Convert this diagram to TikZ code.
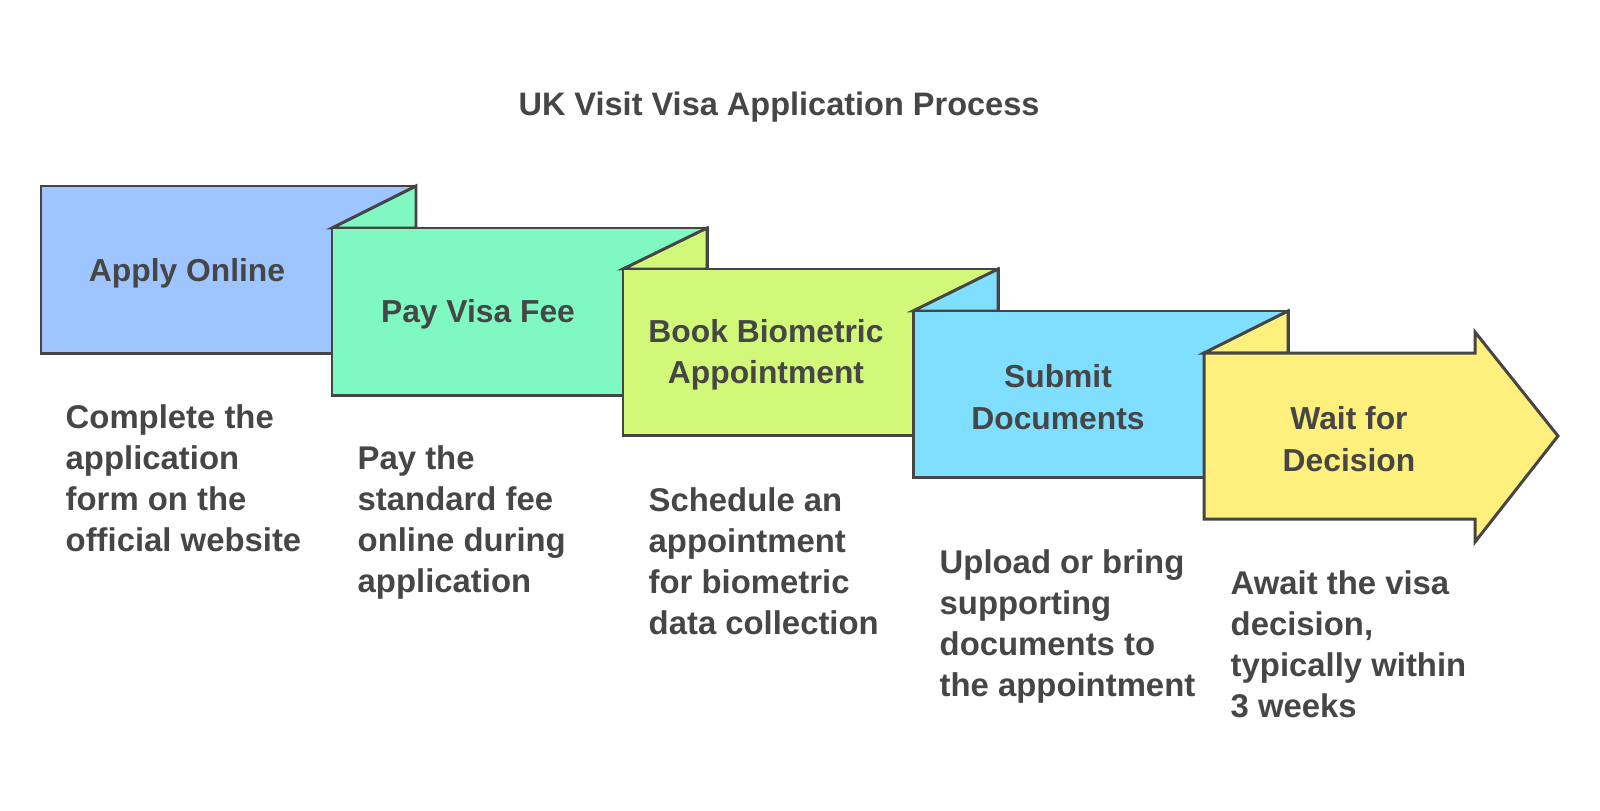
\documentclass[tikz,border=0pt]{standalone}
\usepackage{fontspec}
\setmainfont{Liberation Sans}
\definecolor{azul}{HTML}{9EC5FF}
\definecolor{menta}{HTML}{80F8C2}
\definecolor{lima}{HTML}{D2F87A}
\definecolor{celeste}{HTML}{80DEFF}
\definecolor{amarillo}{HTML}{FFF07E}
\definecolor{borde}{HTML}{454545}
\definecolor{texto}{HTML}{464646}
\tikzset{
  caja/.style={draw=borde, line width=0.85pt},
  etiqueta/.style={font=\bfseries\fontsize{9.05}{11.8}\selectfont, text=texto, align=center, inner sep=0pt},
  desc/.style={font=\bfseries\fontsize{9.35}{11.7}\selectfont, text=texto, align=left, anchor=north west, inner sep=0pt},
}
\begin{document}
\begin{tikzpicture}[x=0.1mm, y=-0.1mm]
  \useasboundingbox (0, 0) rectangle (1600, 810);
  \node[font=\bfseries\fontsize{9.25}{11}\selectfont, text=texto] (titulo) at (779, 107) {UK Visit Visa Application Process};

  % Primer paso
  \draw[caja, fill=azul] (41, 186) rectangle (416, 353);
  \node[etiqueta] (paso1) at (187, 273) {Apply Online};
  \node[desc] (desc1) at (65, 404) {Complete the\\application\\form on the\\official website};

  % Segundo paso
  \draw[caja, fill=menta] (332, 228) -- (416, 186) -- (416, 228) -- cycle;
  \draw[caja, fill=menta] (332, 228) rectangle (707, 395);
  \node[etiqueta] (paso2) at (478, 314) {Pay Visa Fee};
  \node[desc] (desc2) at (357, 445) {Pay the\\standard fee\\online during\\application};

  % Tercer paso
  \draw[caja, fill=lima] (623, 269) -- (707, 228) -- (707, 269) -- cycle;
  \draw[caja, fill=lima] (623, 269) rectangle (998, 435);
  \node[etiqueta] (paso3) at (766, 355) {Book Biometric\\Appointment};
  \node[desc] (desc3) at (648, 487) {Schedule an\\appointment\\for biometric\\data collection};

  % Cuarto paso
  \draw[caja, fill=celeste] (913, 311) -- (998, 269) -- (998, 311) -- cycle;
  \draw[caja, fill=celeste] (913, 311) rectangle (1288, 477);
  \node[etiqueta] (paso4) at (1058, 397) {Submit\\Documents};
  \node[desc] (desc4) at (939, 549) {Upload or bring\\supporting\\documents to\\the appointment};

  % Quinto paso (flecha)
  \draw[caja, fill=amarillo] (1204, 353) -- (1288, 311) -- (1288, 353) -- cycle;
  \draw[caja, fill=amarillo] (1204, 353) -- (1475, 353) -- (1475, 332) -- (1558, 436)
    -- (1475, 542) -- (1475, 519) -- (1204, 519) -- cycle;
  \node[etiqueta] (paso5) at (1349, 439) {Wait for\\Decision};
  \node[desc] (desc5) at (1230, 570) {Await the visa\\decision,\\typically within\\3 weeks};
\end{tikzpicture}
\end{document}
